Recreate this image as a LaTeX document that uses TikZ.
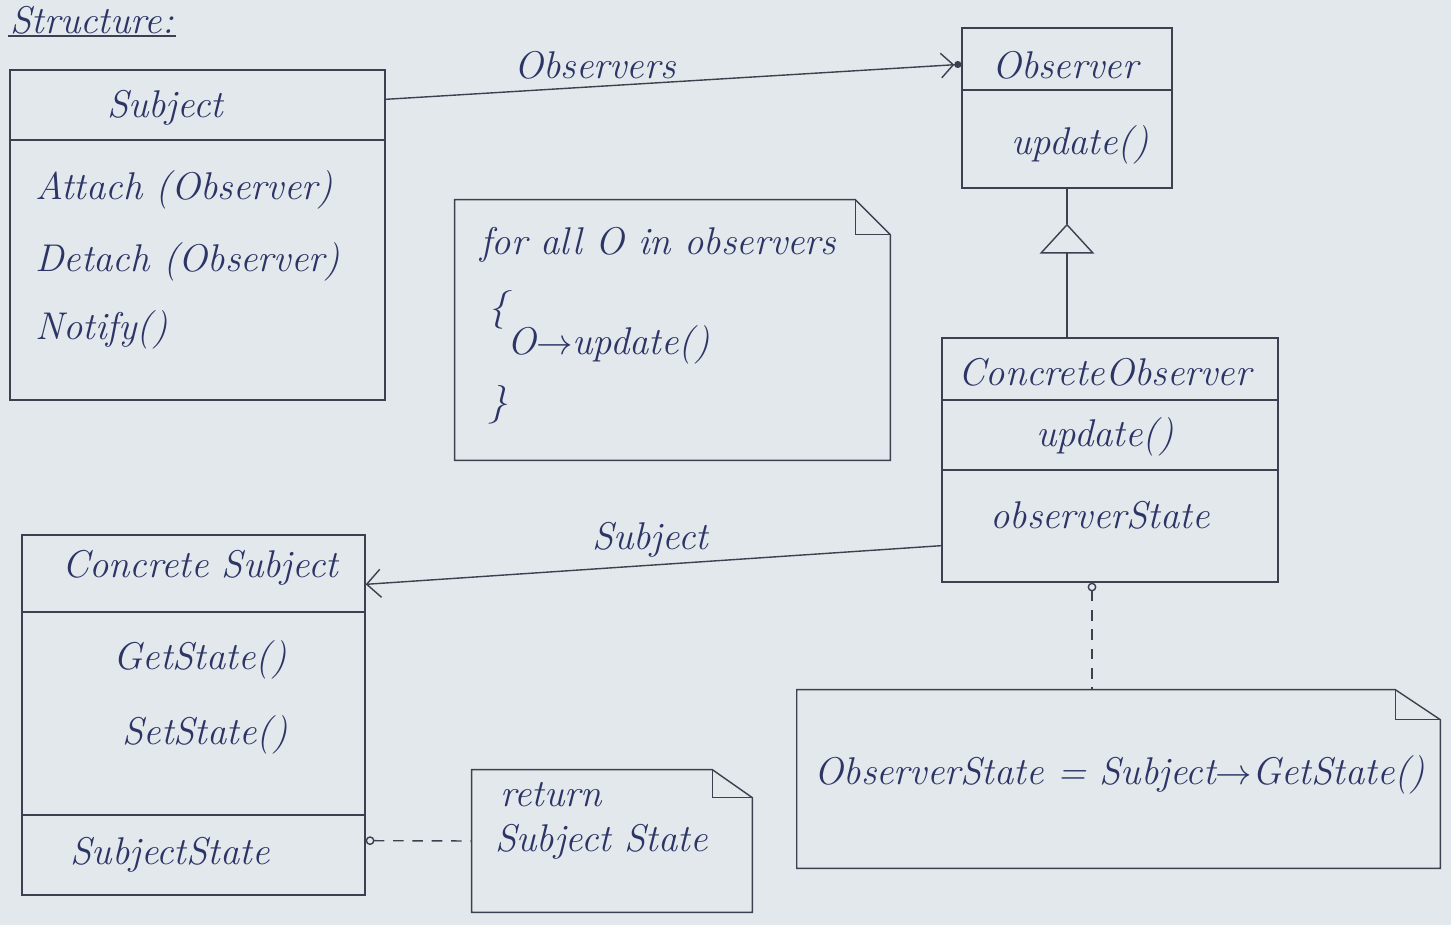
\documentclass[tikz,border=0pt]{standalone}
\usetikzlibrary{arrows.meta, positioning, calc}
\definecolor{paper}{HTML}{E2E8EB}
\definecolor{pen}{HTML}{3B4150}
\definecolor{ink}{HTML}{2C3566}

\begin{document}
\begin{tikzpicture}[
    x=0.02cm, y=-0.02cm,
    cls/.style={draw=pen, line width=0.8pt, inner sep=0},
    memo/.style={inner sep=0},
    txt/.style={text=ink, font=\fontsize{22}{26}\selectfont\itshape, inner sep=1pt},
    wire/.style={draw=pen, line width=0.8pt},
    dep/.style={draw=pen, line width=0.8pt, dash pattern=on 6pt off 5pt},
    >=Stealth
]
\fill[paper] (0,0) rectangle (1451,925);
% title
\node[txt] (title) at (92,20) {Structure:};
\draw[wire] (title.south west) -- (title.south east);

% class boxes
\node[cls, minimum width=7.5cm,  minimum height=6.6cm]  (subj)  at (197.5,235) {};
\node[cls, minimum width=4.2cm,  minimum height=3.2cm]  (obs)   at (1067,108)  {};
\node[cls, minimum width=6.72cm, minimum height=4.88cm] (cobs)  at (1110,460)  {};
\node[cls, minimum width=6.86cm, minimum height=7.2cm]  (csubj) at (193.5,715) {};
\draw[wire] (subj.west |- 0,140) -- (subj.east |- 0,140);
\draw[wire] (obs.west |- 0,90) -- (obs.east |- 0,90);
\foreach \y in {400, 470}
  \draw[wire] (cobs.west |- 0,\y) -- (cobs.east |- 0,\y);
\foreach \y in {612, 815}
  \draw[wire] (csubj.west |- 0,\y) -- (csubj.east |- 0,\y);

% class texts
\node[txt] (subjname) at (165,108) {Subject};
\foreach \m/\y in {Attach (Observer)/190, Detach (Observer)/262, Notify()/330}
  \node[txt, anchor=west] (subjop\y) at (33,\y) {\m};
\node[txt] (obsname) at (1065,65) {Observer};
\node[txt] (obsop) at (1080,145) {update()};
\node[txt] (cobsname) at (1105,372) {ConcreteObserver};
\node[txt] (cobsop) at (1105,437) {update()};
\node[txt] (cobsattr) at (1100,515) {observerState};
\node[txt] (csubjname) at (200,568) {Concrete Subject};
\node[txt] (csubjget) at (200,660) {GetState()};
\node[txt] (csubjset) at (205,735) {SetState()};
\node[txt] (csubjattr) at (170,855) {SubjectState};

% notes with folded corner
\node[memo, minimum width=8.7cm,  minimum height=5.2cm]  (note1) at (672.5,330) {};
\node[memo, minimum width=5.6cm,  minimum height=2.84cm] (note2) at (612,841)   {};
\node[memo, minimum width=12.86cm,minimum height=3.56cm] (note3) at (1118.5,779){};
\foreach \n/\fx/\fy in {note1/35/35, note2/40/28, note3/45/30} {
  \draw[wire] (\n.north west) -- ($(\n.north east)+(-\fx,0)$) -- ($(\n.north east)+(0,\fy)$)
    -- (\n.south east) -- (\n.south west) -- cycle;
  \draw[wire] ($(\n.north east)+(-\fx,0)$) -- ($(\n.north east)+(-\fx,\fy)$) -- ($(\n.north east)+(0,\fy)$);
}
\node[txt, anchor=west] (loop) at (478,245) {for all O in observers};
\node[txt, anchor=west] (open) at (486,310) {\{};
\node[txt, anchor=west] (call) at (505,345) {O$\rightarrow$update()};
\node[txt, anchor=west] (close) at (486,405) {\}};
\node[txt, anchor=west] (ret) at (498,795) {return};
\node[txt, anchor=west] (retval) at (493,842) {Subject State};
\node[txt] (assign) at (1120,775) {ObserverState = Subject$\rightarrow$GetState()};

% associations
\draw[wire, -{Straight Barb[length=7pt,width=14pt] Circle[length=4pt]}]
  ($(subj.north east)+(0,30)$) -- ($(obs.north west)+(0,37)$);
\node[txt] (obslabel) at (595,65) {Observers};
\draw[wire, -{Straight Barb[length=8pt,width=16pt]}]
  ($(cobs.south west)+(0,-37)$) -- ($(csubj.north east)+(0,50)$);
\node[txt] (subjlabel) at (650,540) {Subject};

% generalization
\coordinate (genTip) at ($(obs.south)+(0,35)$);
\draw[wire, -{Triangle[open,length=17pt,width=31pt]}] (genTip |- cobs.north) -- (genTip);
\draw[wire] (genTip) -- (obs.south);

% note links
\draw[dep, {Circle[open,length=5pt]}-] ($(csubj.south east)+(0,-55)$) -- (note2.west);
\coordinate (cobsDep) at ($(cobs.south)+(-18,0)$);
\draw[dep, {Circle[open,length=5pt]}-] (cobsDep) -- (cobsDep |- note3.north);
\end{tikzpicture}
\end{document}
